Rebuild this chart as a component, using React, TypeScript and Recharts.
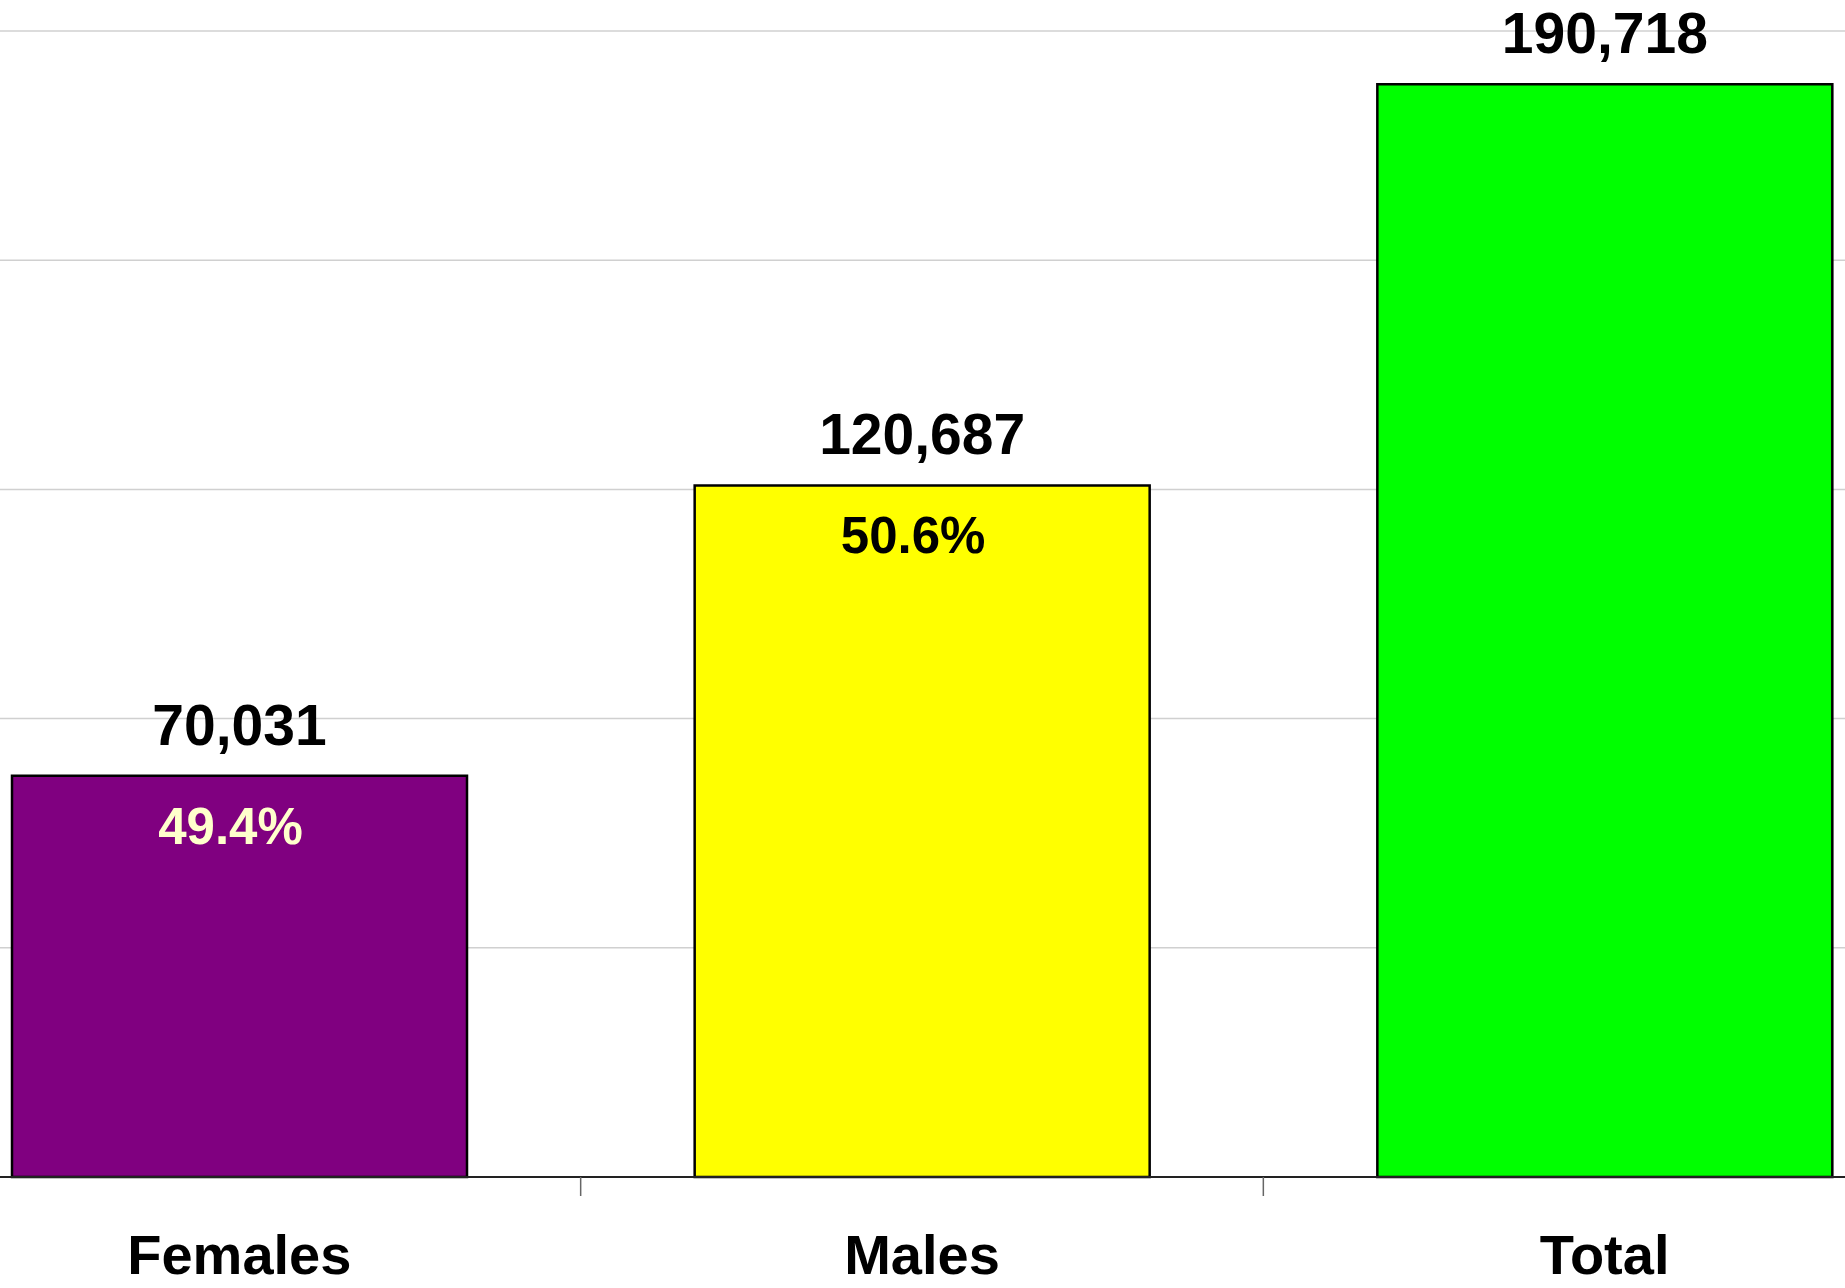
import React from 'react';
import { BarChart, Bar, XAxis, YAxis, CartesianGrid, LabelList, Cell } from 'recharts';

const categories = ['Females', 'Males', 'Total'];
const counts = [70031, 120687, 190718];
const shares = ['49.4%', '50.6%', ''];
const barColors = ['#800080', '#FFFF00', '#00FF00'];
const shareColors = ['#FFFFCC', '#000000', '#000000'];
const yTicks = [0, 40000, 80000, 120000, 160000, 200000];

const data = categories.map((name, i) => ({ name, count: counts[i], share: shares[i] }));

const FONT = '"Liberation Sans", Arial, Helvetica, sans-serif';
const LABEL_GAP = 57;
const BOUNDARY_TICK = 19;

const ValueLabel = (props: any) => {
  const { x, y, width, value } = props;
  return (
    <text x={x + width / 2} y={y - 31} textAnchor="middle" fontFamily={FONT} fontWeight="bold" fontSize={57} fill="#000">
      {Number(value).toLocaleString('en-US')}
    </text>
  );
};

const ShareLabel = (props: any) => {
  const { x, y, width, value, index } = props;
  if (!value) return null;
  return (
    <text x={x + width / 2} dx={-9} y={y + 68} textAnchor="middle" fontFamily={FONT} fontWeight="bold" fontSize={51} fill={shareColors[index]}>
      {value}
    </text>
  );
};

const CategoryTick = (props: any) => {
  const { x, y, payload, index } = props;
  const axisY = y - LABEL_GAP;
  const boundaryX = payload.coordinate - (payload.offset || 0);
  return (
    <g>
      {index > 0 && (
        <line x1={boundaryX} x2={boundaryX} y1={axisY} y2={axisY + BOUNDARY_TICK} stroke="#666" strokeWidth={1.5} />
      )}
      <text x={x} y={y} dy="0.71em" textAnchor="middle" fontFamily={FONT} fontWeight="bold" fontSize={56} fill="#000">
        {payload.value}
      </text>
    </g>
  );
};

export default function App() {
  return (
    <div style={{ position: 'absolute', left: 0, top: 0, width: 1845, height: 1288, overflow: 'hidden', background: '#fff' }}>
      <div style={{ position: 'absolute', left: -102, top: 0 }}>
        <BarChart width={2048} height={1288} data={data} margin={{ top: 31, right: 0, bottom: 0, left: 0 }}>
          <CartesianGrid horizontal vertical={false} stroke="#d0d0d0" strokeWidth={1.5} />
          <YAxis hide width={0} domain={[0, 200000]} ticks={yTicks} />
          <XAxis
            dataKey="name"
            height={111}
            tickLine={false}
            tickSize={0}
            tickMargin={LABEL_GAP}
            axisLine={{ stroke: '#222', strokeWidth: 2 }}
            tick={CategoryTick}
            interval={0}
          />
          <Bar dataKey="count" barSize={455} stroke="#000" strokeWidth={2.5} isAnimationActive={false}>
            {data.map((d, i) => (
              <Cell key={d.name} fill={barColors[i]} />
            ))}
            <LabelList dataKey="count" content={ValueLabel} />
            <LabelList dataKey="share" content={ShareLabel} />
          </Bar>
        </BarChart>
      </div>
    </div>
  );
}
